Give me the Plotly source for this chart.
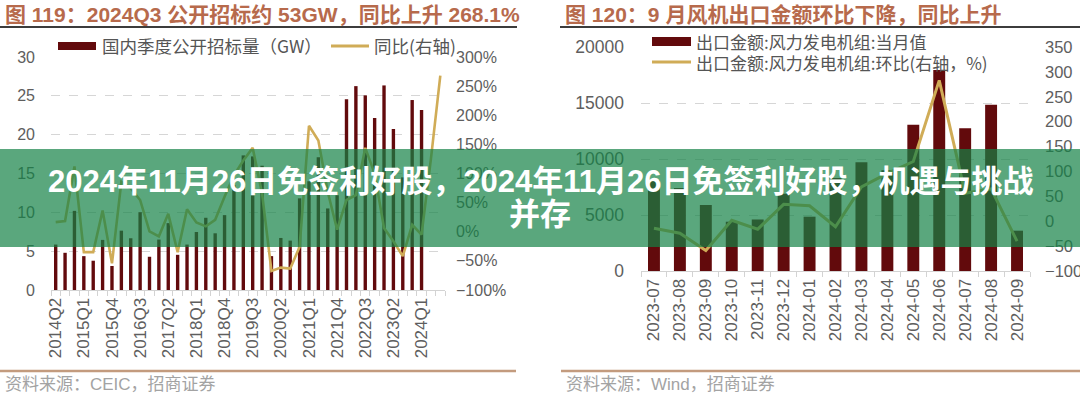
import plotly.graph_objects as go

W, H = 1080, 397

# ---------------- data: left chart ----------------
quarters = ["2014Q2", "2014Q3", "2014Q4", "2015Q1", "2015Q2", "2015Q3", "2015Q4",
            "2016Q1", "2016Q2", "2016Q3", "2016Q4", "2017Q1", "2017Q2", "2017Q3",
            "2017Q4", "2018Q1", "2018Q2", "2018Q3", "2018Q4", "2019Q1", "2019Q2",
            "2019Q3", "2019Q4", "2020Q1", "2020Q2", "2020Q3", "2020Q4", "2021Q1",
            "2021Q2", "2021Q3", "2021Q4", "2022Q1", "2022Q2", "2022Q3", "2022Q4",
            "2023Q1", "2023Q2", "2023Q3", "2023Q4", "2024Q1", "2024Q2", "2024Q3"]
quarter_tick_labels = ["2014Q2", "2015Q1", "2015Q4", "2016Q3", "2017Q2", "2018Q1", "2018Q4",
                       "2019Q3", "2020Q2", "2021Q1", "2021Q4", "2022Q3", "2023Q2", "2024Q1"]
tender_gw = [5.85, 4.79, 10.19, 4.36, 3.77, 6.45, 3.09, 7.64, 6.66, 10.02, 4.28, 6.49,
             8.61, 4.53, 5.85, 7.47, 9.30, 7.30, 9.64, 13.5, 17.33, 17.2, 16.0, 4.36,
             6.70, 6.36, 11.8, 14.0, 17.1, 10.5, 12.2, 24.55, 26.25, 25.06, 22.13,
             26.34, 20.72, 14.5, 24.46, 23.19, None, None]
tender_yoy = [16.5, 18.3, 112, -35, -35, 36.4, -54.3, 85.7, 74.4, 54.5, 0.7, -7.9,
              30.7, -35, 38.7, 16, 9.2, 20.5, 60.1, 96.9, 122.4, 144, 65.7, -67.3,
              -61.6, -63.3, -26, 182, 156.5, 68.7, 3.5, 54.5, 63, 144, 99.9, 6.4,
              -16.3, -41.9, 12, -5, 125, 268.1]

# ---------------- data: right chart ----------------
months = ["2023-07", "2023-08", "2023-09", "2023-10", "2023-11", "2023-12", "2024-01",
          "2024-02", "2024-03", "2024-04", "2024-05", "2024-06", "2024-07", "2024-08",
          "2024-09"]
export_value = [8100, 7400, 5900, 4400, 4600, 6900, 4850, 8300, 9700, 9000, 13050,
                17950, 12750, 14850, 3600]
export_mom = [-14, -24, -59, 2, -16, 34, 31, -11, 69, 96, 120, 283, 56, 65, -40]

# ---------------- texts ----------------
title_left = "图 119：2024Q3 公开招标约 53GW，同比上升 268.1%"
title_right = "图 120：9 月风机出口金额环比下降，同比上升"
legend_left = ["国内季度公开招标量（GW）", "同比(右轴)"]
legend_right = ["出口金额:风力发电机组:当月值", "出口金额:风力发电机组:环比(右轴，%)"]
source_left = "资料来源：CEIC，招商证券"
source_right = "资料来源：Wind，招商证券"
banner_line1 = "2024年11月26日免签利好股，2024年11月26日免签利好股，机遇与挑战"
banner_line2 = "并存"

BAR = "#620A0C"
GOLD = "#D0AC57"
TICK = "#5E5E5E"
GRID = "#D6D6D6"
FONT = "Liberation Sans, Noto Sans CJK SC, sans-serif"
CJK = "Noto Sans CJK SC, sans-serif"


def px(x):
    return x / W


def py(y):
    return 1 - y / H


fig = go.Figure()
fig.add_trace(go.Bar(x=quarters, y=tender_gw, marker_color=BAR, marker_line_width=0,
                     width=0.36, xaxis="x", yaxis="y", name=legend_left[0]))
fig.add_trace(go.Scatter(x=quarters, y=tender_yoy, mode="lines",
                         line=dict(color=GOLD, width=2.6), xaxis="x", yaxis="y2",
                         name=legend_left[1], connectgaps=True))
fig.add_trace(go.Bar(x=months, y=export_value, marker_color=BAR, marker_line_width=0,
                     width=0.46, xaxis="x3", yaxis="y3", name=legend_right[0]))
fig.add_trace(go.Scatter(x=months, y=export_mom, mode="lines",
                         line=dict(color=GOLD, width=3), xaxis="x3", yaxis="y4",
                         name=legend_right[1]))

left_ticktext = [q if q in quarter_tick_labels else "" for q in quarters]

common_x = dict(type="category", tickmode="array", tickangle=-90, ticks="outside",
                tickson="boundaries", ticklen=5, tickcolor="#D3D3D3", showline=True,
                linecolor="#D3D3D3", linewidth=1, showgrid=False, zeroline=False,
                automargin=False, tickfont=dict(family=FONT, size=17, color=TICK))
common_y = dict(showline=False, zeroline=False, ticks="", automargin=False)

fig.update_layout(
    width=W, height=H, margin=dict(l=0, r=0, t=0, b=0, pad=0), autosize=False,
    paper_bgcolor="white", plot_bgcolor="rgba(0,0,0,0)", showlegend=False,
    xaxis=dict(domain=[px(51), px(445)], anchor="y", range=[-0.5, 41.5],
               tickvals=quarters, ticktext=left_ticktext, **common_x),
    yaxis=dict(domain=[py(290), py(57)], anchor="x", range=[0, 30], dtick=5,
               showgrid=True, gridcolor=GRID, griddash="dash", ticklabelstandoff=15,
               tickfont=dict(family=FONT, size=16, color=TICK), **common_y),
    yaxis2=dict(overlaying="y", side="right", anchor="x", range=[-100, 300], dtick=50,
                ticksuffix="%", showgrid=False, ticklabelstandoff=10,
                tickfont=dict(family=FONT, size=16, color=TICK), **common_y),
    xaxis3=dict(domain=[px(641), px(1030)], anchor="y3", range=[-0.5, 14.5],
                tickvals=months, ticktext=months, **common_x),
    yaxis3=dict(domain=[py(271), py(47)], anchor="x3", range=[0, 20000], dtick=5000,
                tickformat="d", showgrid=True, gridcolor=GRID, griddash="dash",
                ticklabelstandoff=16, tickfont=dict(family=FONT, size=17.5, color=TICK),
                **common_y),
    yaxis4=dict(overlaying="y3", side="right", anchor="x3", range=[-100, 350], dtick=50,
                showgrid=False, ticklabelstandoff=14,
                tickfont=dict(family=FONT, size=16.5, color=TICK), **common_y),
)

shapes = []
annotations = []

# titles and rules
for x0, x1, t in [(0, 517, title_left), (560, 1080, title_right)]:
    shapes.append(dict(type="line", xref="paper", yref="paper", x0=px(x0), x1=px(x1),
                       y0=py(27), y1=py(27), line=dict(color="#3C3C3C", width=2)))
    annotations.append(dict(xref="paper", yref="paper", x=px(x0 + 3), y=py(15),
                            xanchor="left", yanchor="middle", showarrow=False,
                            text="<b>" + t + "</b>",
                            font=dict(family=FONT, size=21, color="#B76A4C")))

# sources
for x0, x1, t in [(0, 516, source_left), (561, 1080, source_right)]:
    shapes.append(dict(type="line", xref="paper", yref="paper", x0=px(x0), x1=px(x1),
                       y0=py(371), y1=py(371), line=dict(color="#C39B7E", width=2.5)))
    annotations.append(dict(xref="paper", yref="paper", x=px(x0 + 3), y=py(384),
                            xanchor="left", yanchor="middle", showarrow=False, text=t,
                            font=dict(family=FONT, size=17, color="#A3A3A3")))

# left legend
shapes.append(dict(type="rect", xref="paper", yref="paper", x0=px(58), x1=px(96),
                   y0=py(50), y1=py(42), fillcolor=BAR, line=dict(width=0)))
annotations.append(dict(xref="paper", yref="paper", x=px(100), y=py(46), xanchor="left",
                        yanchor="middle", showarrow=False, text=legend_left[0],
                        font=dict(family=CJK, size=17.5, color="#555555")))
shapes.append(dict(type="line", xref="paper", yref="paper", x0=px(331), x1=px(369),
                   y0=py(46), y1=py(46), line=dict(color=GOLD, width=3)))
annotations.append(dict(xref="paper", yref="paper", x=px(372), y=py(46), xanchor="left",
                        yanchor="middle", showarrow=False, text=legend_left[1],
                        font=dict(family=CJK, size=17.5, color="#555555")))

# right legend
shapes.append(dict(type="rect", xref="paper", yref="paper", x0=px(652), x1=px(691),
                   y0=py(46), y1=py(37), fillcolor=BAR, line=dict(width=0)))
annotations.append(dict(xref="paper", yref="paper", x=px(694), y=py(41), xanchor="left",
                        yanchor="middle", showarrow=False, text=legend_right[0],
                        font=dict(family=CJK, size=17, color="#555555")))
shapes.append(dict(type="line", xref="paper", yref="paper", x0=px(652), x1=px(691),
                   y0=py(62), y1=py(62), line=dict(color=GOLD, width=3)))
annotations.append(dict(xref="paper", yref="paper", x=px(694), y=py(63), xanchor="left",
                        yanchor="middle", showarrow=False, text=legend_right[1],
                        font=dict(family=CJK, size=17, color="#555555")))

# banner overlay
shapes.append(dict(type="rect", xref="paper", yref="paper", x0=0, x1=1,
                   y0=py(247), y1=py(149), fillcolor="rgba(20,130,70,0.70)",
                   line=dict(width=0), layer="above"))
annotations.append(dict(xref="paper", yref="paper", x=px(540), y=py(181),
                        xanchor="center", yanchor="middle", showarrow=False,
                        text="<b>" + banner_line1 + "</b>",
                        font=dict(family=FONT, size=31, color="white")))
annotations.append(dict(xref="paper", yref="paper", x=px(540), y=py(214),
                        xanchor="center", yanchor="middle", showarrow=False,
                        text="<b>" + banner_line2 + "</b>",
                        font=dict(family=FONT, size=31, color="white")))

fig.update_layout(shapes=shapes, annotations=annotations)
fig.write_html("out.html", config={"responsive": False, "displayModeBar": False},
               post_script="document.body.style.margin='0';"
                           "document.body.style.padding='0';"
                           "document.body.style.overflow='hidden';")
